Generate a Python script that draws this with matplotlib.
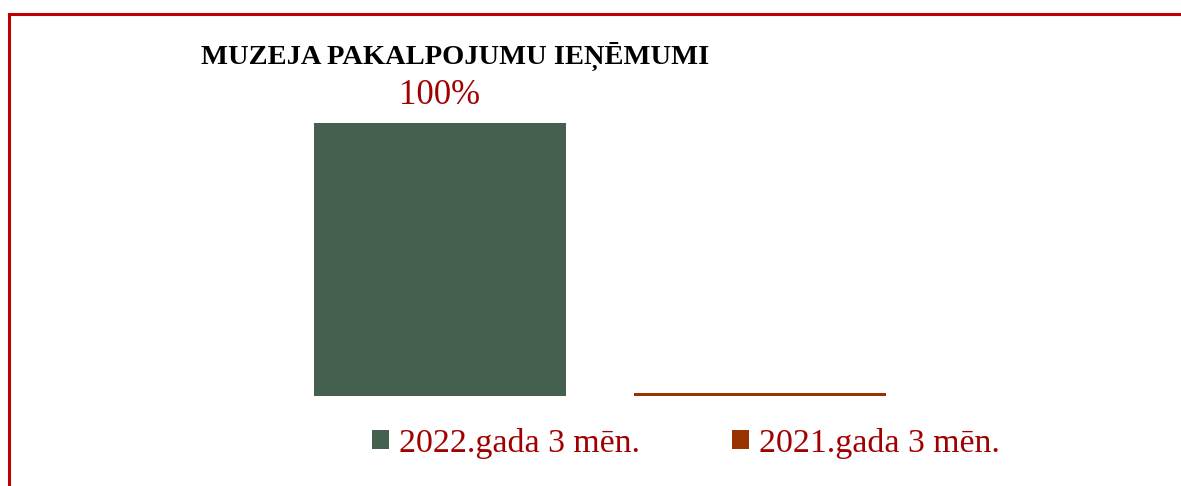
import matplotlib
matplotlib.use("Agg")
import matplotlib.pyplot as plt
from matplotlib.lines import Line2D
from matplotlib.patches import Patch

# data
categories = ["2022.gada 3 mēn.", "2021.gada 3 mēn."]
values = [100, 1]
labels = ["100%", ""]
colors = ["#466050", "#993300"]
title = "MUZEJA PAKALPOJUMU IEŅĒMUMI"

text_red = "#A00000"
border_red = "#C00000"
serif = ["Liberation Serif", "DejaVu Serif"]

W, H = 1181, 486
fig = plt.figure(figsize=(W / 100, H / 100), dpi=100)

# axes placed so bar centres land at 440 and 760 px, baseline at 396 px
ax = fig.add_axes([280 / W, (H - 396) / H, 640 / W, 273 / H])
x = range(len(categories))
bars = ax.bar(x, values, width=0.7875, color=colors)
ax.set_xlim(-0.5, 1.5)
ax.set_ylim(0, 100)
ax.axis("off")

for b, lab in zip(bars, labels):
    if lab:
        ax.annotate(lab, (b.get_x() + b.get_width() / 2, b.get_height()),
                    xytext=(0, 8), textcoords="offset points",
                    ha="center", va="bottom", color=text_red,
                    fontsize=25, family=serif, annotation_clip=False)

fig.text(455 / W, (H - 56) / H, title, ha="center", va="center",
         fontsize=20.5, fontweight="bold", family=serif, color="black")

handles = [Patch(facecolor=c, edgecolor="none") for c in colors]
leg = fig.legend(handles, categories, loc="center",
                 bbox_to_anchor=(686 / W, (H - 443) / H), ncol=2,
                 frameon=False, handlelength=0.5, handleheight=0.5,
                 handletextpad=0.3, columnspacing=2.7,
                 prop={"family": serif, "size": 24.4})
for t in leg.get_texts():
    t.set_color(text_red)

# chart border (top and left edges visible)
fig.add_artist(Line2D([9.5 / W, 9.5 / W], [0, (H - 14) / H], color=border_red, lw=2.2))
fig.add_artist(Line2D([9.5 / W, 1], [(H - 14) / H, (H - 14) / H], color=border_red, lw=2.2))

fig.savefig("out.png", dpi=100)
